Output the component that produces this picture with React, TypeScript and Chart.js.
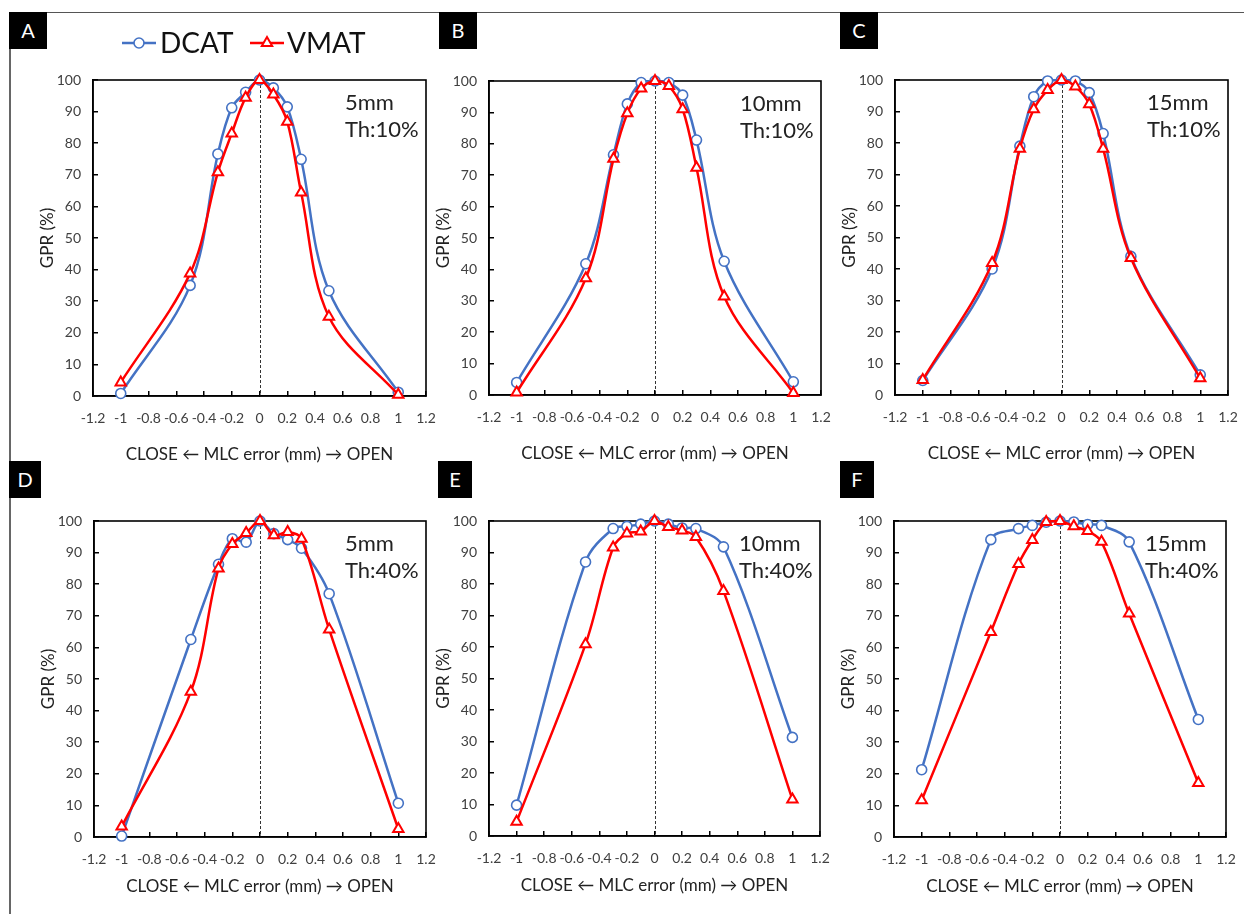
import React, { useEffect, useRef } from 'react';
import { Chart, registerables } from 'chart.js';
import { drawPoint } from 'chart.js/helpers';

Chart.register(...registerables);

// ---------------- DATA ----------------
const xValues = [-1, -0.5, -0.3, -0.2, -0.1, 0, 0.1, 0.2, 0.3, 0.5, 1];
const xTicks = [-1.2, -1, -0.8, -0.6, -0.4, -0.2, 0, 0.2, 0.4, 0.6, 0.8, 1, 1.2];
const yTicks = [0, 10, 20, 30, 40, 50, 60, 70, 80, 90, 100];

const dcatA = [0.8, 35.0, 76.6, 91.2, 96.1, 100, 97.5, 91.5, 74.9, 33.3, 1.2];
const vmatA = [4.3, 38.8, 70.8, 83.1, 94.4, 100, 95.4, 86.8, 64.4, 25.1, 0.4];
const dcatB = [4.0, 41.8, 76.5, 92.7, 99.5, 100, 99.5, 95.5, 81.2, 42.6, 4.2];
const vmatB = [0.8, 37.2, 75.2, 89.7, 97.6, 100, 98.4, 91.0, 72.4, 31.4, 0.6];
const dcatC = [4.6, 40.0, 79.0, 94.7, 99.7, 100, 99.7, 96.0, 83.0, 44.0, 6.4];
const vmatC = [4.8, 41.9, 78.2, 90.7, 96.8, 100, 97.9, 92.3, 78.2, 43.5, 5.3];
const dcatD = [0.3, 62.5, 86.3, 94.4, 93.3, 100, 96.0, 94.1, 91.4, 77.0, 10.7];
const vmatD = [3.3, 46.0, 85.0, 92.7, 96.2, 100, 95.5, 96.5, 94.4, 65.7, 2.5];
const dcatE = [9.8, 87.0, 97.6, 98.3, 99.0, 100, 99.0, 97.8, 97.6, 91.8, 31.3];
const vmatE = [4.5, 60.9, 91.6, 96.0, 96.7, 100, 98.1, 97.0, 94.9, 77.8, 11.6];
const dcatF = [21.3, 94.1, 97.6, 98.6, 99.6, 100, 99.7, 98.9, 98.6, 93.4, 37.2];
const vmatF = [11.6, 64.9, 86.4, 94.0, 99.7, 100, 98.3, 96.8, 93.4, 70.7, 17.1];

const seriesNames = ['DCAT', 'VMAT'];
const panelLetters = ['A', 'B', 'C', 'D', 'E', 'F'];
const fieldSizes = ['5mm', '10mm', '15mm', '5mm', '10mm', '15mm'];
const thresholds = ['Th:10%', 'Th:10%', 'Th:10%', 'Th:40%', 'Th:40%', 'Th:40%'];
const xTitle = 'CLOSE \u2190 MLC error (mm) \u2192 OPEN';
const yTitle = 'GPR (%)';

const dcatSeries = [dcatA, dcatB, dcatC, dcatD, dcatE, dcatF];
const vmatSeries = [vmatA, vmatB, vmatC, vmatD, vmatE, vmatF];

// ---------------- LAYOUT ----------------
const plotRects = [
  { l: 93, t: 80, r: 426, b: 396 },
  { l: 489, t: 81, r: 821, b: 395 },
  { l: 895, t: 80, r: 1228, b: 395 },
  { l: 94, t: 521, r: 426, b: 837 },
  { l: 489, t: 521, r: 820, b: 836 },
  { l: 894, t: 521, r: 1226, b: 837 },
];
const letterBoxes = [
  { x: 9, y: 12, w: 38, h: 37 },
  { x: 439, y: 12, w: 38, h: 37 },
  { x: 840, y: 12, w: 38, h: 37 },
  { x: 9, y: 461, w: 32, h: 37 },
  { x: 438, y: 461, w: 34, h: 37 },
  { x: 840, y: 461, w: 34, h: 37 },
];

const BLUE = '#4472C4';
const RED = '#FF0000';
const FONT = 'Lato, Carlito, Calibri, "Open Sans", sans-serif';
const Y_AXIS_W = 60;
const PAD_R = 15;

const fmt = (v: number) => {
  const r = Math.round(v * 10) / 10;
  return (Object.is(r, -0) ? 0 : r).toString();
};

const decorPlugin = {
  id: 'panelDecor',
  beforeDatasetsDraw(chart: any, _args: any, opts: any) {
    const { ctx, chartArea } = chart;
    const x0 = chart.scales.x.getPixelForValue(0);
    ctx.save();
    ctx.strokeStyle = '#333';
    ctx.lineWidth = 1;
    ctx.setLineDash([3, 2]);
    ctx.beginPath();
    ctx.moveTo(Math.round(x0) + 0.5, chartArea.top);
    ctx.lineTo(Math.round(x0) + 0.5, chartArea.bottom);
    ctx.stroke();
    ctx.setLineDash([]);
    ctx.strokeStyle = '#000';
    ctx.lineWidth = 1.6;
    ctx.strokeRect(chartArea.left, chartArea.top, chartArea.right - chartArea.left, chartArea.bottom - chartArea.top);
    ctx.fillStyle = '#222';
    ctx.font = `22px ${FONT}`;
    ctx.textAlign = 'left';
    ctx.textBaseline = 'middle';
    ctx.fillText(opts.size, chartArea.right - 81, chartArea.top + 23);
    ctx.fillText(opts.th, chartArea.right - 81, chartArea.top + 50);
    ctx.restore();
  },
  afterDraw(chart: any, _args: any, opts: any) {
    if (!opts.legend) return;
    const { ctx } = chart;
    const { ox, oy } = opts;
    const items = [
      { x: 122, textX: 160 },
      { x: 250, textX: 287 },
    ];
    ctx.save();
    chart.data.datasets.forEach((ds: any, i: number) => {
      const it = items[i];
      const y = 43 - oy;
      const x = it.x - ox;
      ctx.strokeStyle = ds.borderColor;
      ctx.lineWidth = ds.borderWidth;
      ctx.beginPath();
      ctx.moveTo(x, y);
      ctx.lineTo(x + 34, y);
      ctx.stroke();
      ctx.fillStyle = ds.pointBackgroundColor;
      ctx.strokeStyle = ds.pointBorderColor;
      ctx.lineWidth = ds.pointBorderWidth;
      drawPoint(ctx, { pointStyle: ds.pointStyle, radius: ds.pointRadius, borderWidth: ds.pointBorderWidth, rotation: 0 }, x + 17, y);
      ctx.fillStyle = '#111';
      ctx.font = `28px ${FONT}`;
      ctx.textAlign = 'left';
      ctx.textBaseline = 'middle';
      ctx.fillText(ds.label, it.textX - ox, y + 1);
    });
    ctx.restore();
  },
};

function Panel({ idx }: { idx: number }) {
  const ref = useRef<HTMLCanvasElement>(null);
  const rect = plotRects[idx];
  const padTop = idx < 3 ? 60 : 15;
  const xAxisH = idx < 3 ? 75 : 66;
  const left = rect.l - Y_AXIS_W;
  const top = rect.t - padTop;
  const width = rect.r - rect.l + Y_AXIS_W + PAD_R;
  const height = rect.b - rect.t + padTop + xAxisH;

  useEffect(() => {
    const canvas = ref.current;
    if (!canvas) return;
    const tickFont = { family: FONT, size: 14 };
    const chart = new Chart(canvas, {
      type: 'line',
      data: {
        datasets: [
          {
            label: seriesNames[0],
            data: xValues.map((x, i) => ({ x, y: dcatSeries[idx][i] })),
            borderColor: BLUE,
            backgroundColor: BLUE,
            borderWidth: 2.5,
            pointStyle: 'circle',
            pointRadius: 5,
            pointBorderWidth: 1.6,
            pointBackgroundColor: '#fff',
            pointBorderColor: BLUE,
            tension: 0.35,
            clip: false,
            order: 1,
          },
          {
            label: seriesNames[1],
            data: xValues.map((x, i) => ({ x, y: vmatSeries[idx][i] })),
            borderColor: RED,
            backgroundColor: RED,
            borderWidth: 2.5,
            pointStyle: 'triangle',
            pointRadius: 6,
            pointBorderWidth: 2,
            pointBackgroundColor: '#fff',
            pointBorderColor: RED,
            tension: 0.35,
            clip: false,
            order: 0,
          },
        ],
      },
      options: {
        responsive: false,
        animation: false,
        devicePixelRatio: 1,
        layout: { padding: { top: padTop, right: PAD_R, left: 0, bottom: 0 } },
        plugins: {
          legend: { display: false },
          tooltip: { enabled: false },
          panelDecor: {
            size: fieldSizes[idx],
            th: thresholds[idx],
            legend: idx === 0,
            ox: left,
            oy: top,
          },
        } as any,
        scales: {
          x: {
            type: 'linear',
            min: -1.2,
            max: 1.2,
            afterBuildTicks: (s: any) => {
              s.ticks = xTicks.map((v) => ({ value: v }));
            },
            afterFit: (s: any) => {
              s.height = xAxisH;
              s.paddingLeft = 0;
              s.paddingRight = 0;
            },
            ticks: {
              autoSkip: false,
              maxRotation: 0,
              minRotation: 0,
              padding: 19,
              color: '#404040',
              font: tickFont,
              callback: (v: any) => fmt(Number(v)),
            },
            grid: {
              display: true,
              drawOnChartArea: false,
              drawTicks: true,
              tickLength: -5,
              color: '#000',
              lineWidth: 1.5,
            },
            border: { display: true, color: '#000', width: 1.6 },
            title: {
              display: true,
              text: xTitle,
              color: '#222',
              font: { family: FONT, size: 17 },
              padding: { top: 0, bottom: 6 },
            },
          },
          y: {
            type: 'linear',
            min: 0,
            max: 100,
            afterBuildTicks: (s: any) => {
              s.ticks = yTicks.map((v) => ({ value: v }));
            },
            afterFit: (s: any) => {
              s.width = Y_AXIS_W;
              s.paddingTop = 0;
              s.paddingBottom = 0;
            },
            ticks: {
              padding: 17,
              color: '#404040',
              font: tickFont,
            },
            grid: {
              display: true,
              drawOnChartArea: false,
              drawTicks: true,
              tickLength: -5,
              color: '#000',
              lineWidth: 1.5,
            },
            border: { display: true, color: '#000', width: 1.6 },
            title: {
              display: true,
              text: yTitle,
              color: '#222',
              font: { family: FONT, size: 17 },
              padding: { top: 4, bottom: 0 },
            },
          },
        },
      } as any,
      plugins: [decorPlugin],
    });
    return () => chart.destroy();
  }, [idx]);

  return (
    <canvas
      ref={ref}
      width={width}
      height={height}
      style={{ position: 'absolute', left, top, width, height }}
    />
  );
}

export default function App() {
  return (
    <div style={{ position: 'absolute', left: 0, top: 0, width: 1244, height: 914, background: '#fff', overflow: 'hidden' }}>
      <div
        style={{
          position: 'absolute',
          left: 9,
          top: 12,
          width: 1240,
          height: 910,
          borderTop: '1.5px solid #555',
          borderLeft: '2px solid #666',
        }}
      />
      {panelLetters.map((_, i) => (
        <Panel key={i} idx={i} />
      ))}
      {panelLetters.map((ch, i) => {
        const b = letterBoxes[i];
        return (
          <div
            key={'lb' + i}
            style={{
              position: 'absolute',
              left: b.x,
              top: b.y,
              width: b.w,
              height: b.h,
              background: '#000',
              color: '#fff',
              fontFamily: FONT,
              fontSize: 20,
              lineHeight: b.h + 'px',
              textAlign: 'center',
            }}
          >
            {ch}
          </div>
        );
      })}
    </div>
  );
}
